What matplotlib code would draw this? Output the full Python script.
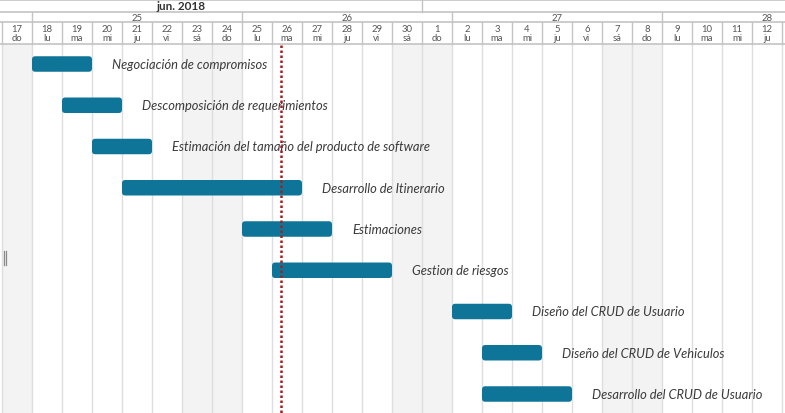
import datetime as dt
import matplotlib
matplotlib.use("Agg")
import matplotlib.pyplot as plt
import matplotlib.dates as mdates
from matplotlib.patches import FancyBboxPatch, Rectangle

# ---------------- data ----------------
TASKS = [
    "Negociación de compromisos",
    "Descomposición de requerimientos",
    "Estimación del tamaño del producto de software",
    "Desarrollo de Itinerario",
    "Estimaciones",
    "Gestion de riesgos",
    "Diseño del CRUD de Usuario",
    "Diseño del CRUD de Vehiculos",
    "Desarrollo del CRUD de Usuario",
]
STARTS = ["2018-06-18", "2018-06-19", "2018-06-20", "2018-06-21", "2018-06-25",
          "2018-06-26", "2018-07-02", "2018-07-03", "2018-07-03"]
ENDS = ["2018-06-20", "2018-06-21", "2018-06-22", "2018-06-27", "2018-06-28",
        "2018-06-30", "2018-07-04", "2018-07-05", "2018-07-06"]
TODAY = "2018-06-26 07:12"
VIEW_START = "2018-06-17"
MONTH_LABEL = "jun. 2018"
DAY_ABBR = ["lu", "ma", "mi", "ju", "vi", "sá", "do"]

# ---------------- layout ----------------
W, H = 785, 414
DPI = 100
PX_PER_DAY = 30.0
ORIGIN_PX = 32.0            # pixel of 2018-06-18 00:00
ROW0, ROW_STEP, BAR_H = 65.0, 41.25, 15.5
HDR_M, HDR_W, HDR_D = 13.0, 23.0, 44.5
MONTH_LABEL_PX = 181

BAR_COLOR = "#0e7599"
GRID = "#dedede"
WEEKEND = "#f3f3f3"
HLINE = "#c4c4c4"
TXT = "#3a3a3a"

plt.rcParams["font.family"] = ["Lato", "DejaVu Sans"]

fig = plt.figure(figsize=(W / DPI, H / DPI), dpi=DPI)
ax = fig.add_axes([0, 0, 1, 1])
ref = mdates.date2num(dt.datetime(2018, 6, 18))
x0 = ref - ORIGIN_PX / PX_PER_DAY
x1 = x0 + W / PX_PER_DAY
ax.set_xlim(x0, x1)
ax.set_ylim(H, 0)
ax.axis("off")

def num(s):
    return mdates.date2num(dt.datetime.fromisoformat(s))

# day columns
d = dt.datetime.fromisoformat(VIEW_START)
days = []
while mdates.date2num(d) < x1:
    days.append(d)
    d += dt.timedelta(days=1)

for day in days:
    xn = mdates.date2num(day)
    if day.weekday() >= 5:
        ax.add_patch(Rectangle((xn, HDR_D), 1, H - HDR_D, facecolor=WEEKEND,
                               edgecolor="none", zorder=0))
    ax.plot([xn, xn], [HDR_D, H], color=GRID, lw=1, zorder=1)
    ax.plot([xn, xn], [HDR_W, HDR_D], color=HLINE, lw=1, zorder=3)
    if xn + 0.5 < x1:
        ax.text(xn + 0.5, 29.5, str(day.day), ha="center", va="center",
                fontsize=6.8, color="#555555", zorder=4)
        ax.text(xn + 0.5, 38.5, DAY_ABBR[day.weekday()], ha="center",
                va="center", fontsize=6.8, color="#555555", zorder=4)

# weeks
for day in days:
    if day.weekday() == 0:
        xn = mdates.date2num(day)
        ax.plot([xn, xn], [HDR_M, HDR_W], color=HLINE, lw=1, zorder=3)
        wk = day.isocalendar()[1]
        ax.text(xn + 3.5, 18.5, str(wk), ha="center", va="center",
                fontsize=6.8, color="#555555", zorder=4)

# months
for day in days:
    if day.day == 1:
        xn = mdates.date2num(day)
        ax.plot([xn, xn], [0, HDR_M], color=HLINE, lw=1, zorder=3)
ax.text(x0 + MONTH_LABEL_PX / PX_PER_DAY, 7, MONTH_LABEL, ha="center",
        va="center", fontsize=8.5, color="#333333", fontweight="bold", zorder=4)

for yy in (0.8, HDR_M, HDR_W, HDR_D):
    ax.plot([x0, x1], [yy, yy], color=HLINE, lw=1.2, zorder=3)

# bars
for i, (name, s, e) in enumerate(zip(TASKS, STARTS, ENDS)):
    xs, xe = num(s), num(e)
    yc = ROW0 + i * ROW_STEP
    p = FancyBboxPatch((xs, yc - BAR_H / 2), xe - xs, BAR_H,
                       boxstyle="round,pad=0,rounding_size=0.11",
                       mutation_aspect=PX_PER_DAY,
                       facecolor=BAR_COLOR, edgecolor="none", zorder=5)
    ax.add_patch(p)
    ax.text(xe + 20 / PX_PER_DAY, yc, name, ha="left", va="center",
            fontsize=9.3, style="italic", color=TXT, zorder=6)

# today marker
tn = num(TODAY)
ax.plot([tn, tn], [HDR_D + 1, H], color="#a81c1c", lw=1.8,
        linestyle=(0, (1, 1)), zorder=7)

# splitter handle
for off in (3.6, 5.6):
    xx = x0 + off / PX_PER_DAY
    ax.plot([xx, xx], [252, 266], color="#8a8a8a", lw=0.9, zorder=7)

fig.savefig("out.png", dpi=DPI)
